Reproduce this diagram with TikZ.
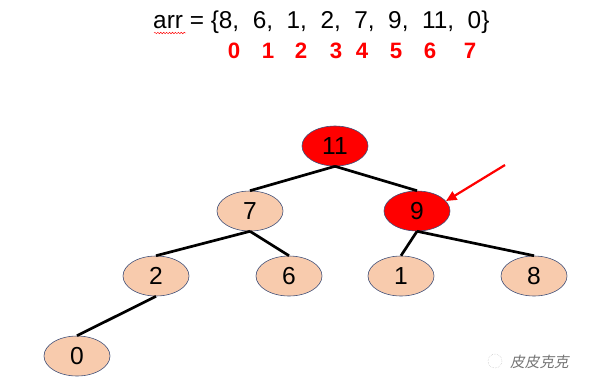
\documentclass[tikz,border=0pt]{standalone}
\usepackage{fontspec}
\setmainfont{Liberation Sans}
\newfontfamily\cjkfont[FakeSlant=0.2]{Noto Sans CJK SC}
\usetikzlibrary{shapes.geometric,decorations.pathmorphing,arrows.meta}
\definecolor{peach}{HTML}{F8CBAD}
\definecolor{rimblue}{HTML}{3F4F78}
\tikzset{
  heapnode/.style={ellipse,draw=rimblue,line width=0.5pt,fill=peach,
    minimum width=1.98cm,minimum height=1.2cm,inner sep=0pt,
    font=\fontsize{21}{24}\selectfont},
  hotnode/.style={heapnode,fill=red},
  heapedge/.style={line width=2.3pt},
  pointer/.style={-{Triangle[length=9pt,width=8pt]},red,line width=1.9pt},
  idx/.style={red,font=\fontsize{19}{22}\selectfont\bfseries}
}

\begin{document}
\begin{tikzpicture}[x=0.03cm,y=-0.03cm]
\useasboundingbox (0,0) rectangle (589,388);

% Array and its indices
\node[anchor=west,inner sep=0pt,font=\fontsize{20.8}{24}\selectfont] (arr) at (153,22)
  {arr = \{8,~~6,~~1,~~2,~~7,~~9,~~11,~~0\}};
\draw[red,line width=0.4pt,decorate,decoration={snake,amplitude=0.6pt,segment length=2.5pt}]
  (154,33) -- (186,33);
\foreach \i/\x in {0/234,1/268,2/301,3/336,4/362,5/396,6/430,7/470}
  \node[idx] (i\i) at (\x,51) {\i};

% Heap nodes
\node[hotnode]  (n11) at (335,146) {11};
\node[heapnode] (n7)  at (250,211) {7};
\node[hotnode]  (n9)  at (417,211) {9};
\node[heapnode] (n2)  at (156,276) {2};
\node[heapnode] (n6)  at (289,276) {6};
\node[heapnode] (n1)  at (401,276) {1};
\node[heapnode] (n8)  at (534,276) {8};
\node[heapnode] (n0)  at (77,356)  {0};

% Tree edges
\draw[heapedge] (n11.south) -- (n7.north);
\draw[heapedge] (n11.south) -- (n9.north);
\draw[heapedge] (n7.south) -- (n2.north);
\draw[heapedge] (n7.south) -- (n6.north);
\draw[heapedge] (n9.south) -- (n1.north);
\draw[heapedge] (n9.south) -- (n8.north);
\draw[heapedge] (n2.south) -- (n0.north);

% Pointer to the swapped node
\coordinate (tail) at (505,165);
\draw[pointer] (tail) -- (n9.19);

% Watermark
\node[gray!90!black,font=\cjkfont\fontsize{12.5}{14}\selectfont,anchor=west,inner sep=0pt] (mark) at (510,362) {皮皮克克};
\node[draw=gray!60,circle,densely dotted,minimum size=0.42cm,inner sep=0pt] (logo) at (495,361) {};
\end{tikzpicture}
\end{document}
